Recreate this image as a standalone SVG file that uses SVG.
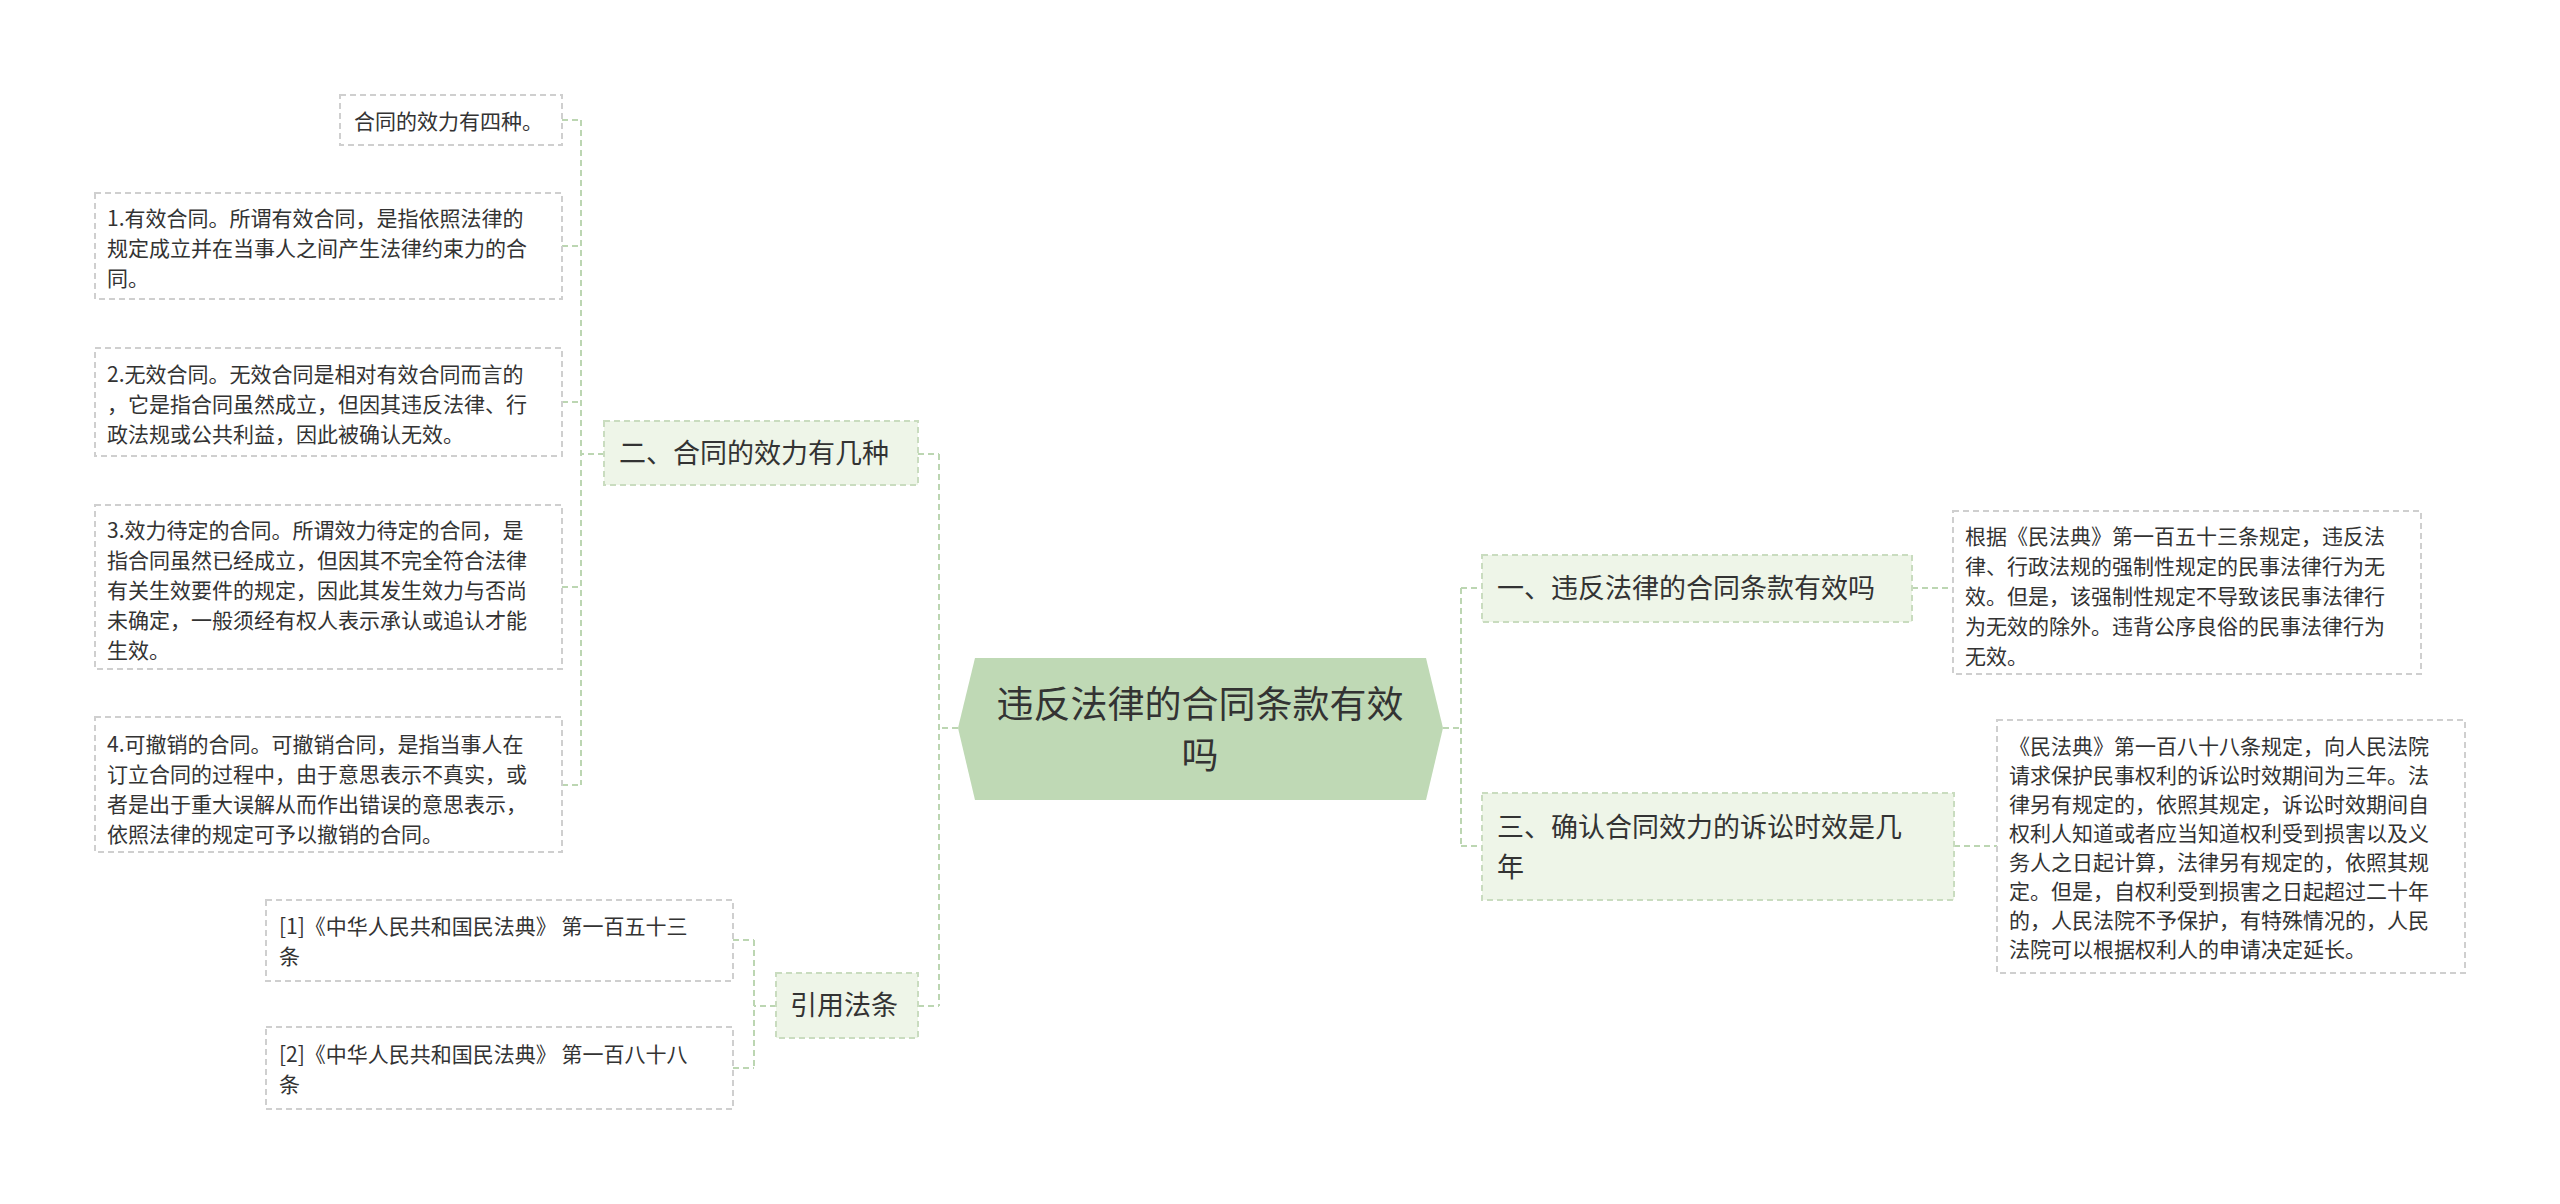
<svg xmlns="http://www.w3.org/2000/svg" width="2560" height="1204" viewBox="0 0 2560 1204">
<style>
text{font-family:"Noto Sans CJK SC","Noto Sans",sans-serif;fill:#333}
.leaf rect{fill:#fff;stroke:#cfcfcf;stroke-width:2;stroke-dasharray:6 4}
.leaf text{font-size:21px}
.br rect{fill:#eef5e8;stroke:#c9dcbf;stroke-width:2;stroke-dasharray:6 4}
.br text{font-size:27px}
#conn path{fill:none;stroke:#bcd6b2;stroke-width:2;stroke-dasharray:6 4}
</style>
<rect width="2560" height="1204" fill="#fff"/>
<g id="conn">
<path d="M958 728 H939 M939 454 V1006 M918 454 H939 M918 1006 H939"/>
<path d="M604 454 H581 M581 120 V785 M562 120 H581 M562 246 H581 M562 402 H581 M562 587 H581 M562 785 H581"/>
<path d="M776 1006 H754 M754 940 V1068 M733 940 H754 M733 1068 H754"/>
<path d="M1443 728 H1461 M1461 588 V846 M1461 588 H1482 M1461 846 H1482"/>
<path d="M1912 588 H1953 M1954 846 H1997"/>
</g>
<g id="root">
<polygon points="958,728 975,658 1426,658 1443,728 1426,800 975,800" fill="#bfd9b5"/>
<text x="1200" y="718" font-size="37" text-anchor="middle">违反法律的合同条款有效</text>
<text x="1200" y="769" font-size="37" text-anchor="middle">吗</text>
</g>
<g id="b2" class="br"><rect x="604" y="421" width="314" height="64"/><text x="619" y="463">二、合同的效力有几种</text></g>
<g id="bref" class="br"><rect x="776" y="973" width="142" height="65"/><text x="790" y="1015">引用法条</text></g>
<g id="b1" class="br"><rect x="1482" y="555" width="430" height="67"/><text x="1497" y="598">一、违反法律的合同条款有效吗</text></g>
<g id="b3" class="br"><rect x="1482" y="793" width="472" height="107"/><text x="1497" y="837">三、确认合同效力的诉讼时效是几</text><text x="1497" y="877">年</text></g>
<g id="l0" class="leaf"><rect x="340" y="95" width="222" height="50"/><text x="354" y="129">合同的效力有四种。</text></g>
<g id="l1" class="leaf"><rect x="95" y="193" width="467" height="106"/>
<text x="107" y="226">1.有效合同。所谓有效合同，是指依照法律的</text><text x="107" y="256">规定成立并在当事人之间产生法律约束力的合</text><text x="107" y="286">同。</text></g>
<g id="l2" class="leaf"><rect x="95" y="348" width="467" height="108"/>
<text x="107" y="382">2.无效合同。无效合同是相对有效合同而言的</text><text x="107" y="412">，它是指合同虽然成立，但因其违反法律、行</text><text x="107" y="442">政法规或公共利益，因此被确认无效。</text></g>
<g id="l3" class="leaf"><rect x="95" y="505" width="467" height="164"/>
<text x="107" y="538">3.效力待定的合同。所谓效力待定的合同，是</text><text x="107" y="568">指合同虽然已经成立，但因其不完全符合法律</text><text x="107" y="598">有关生效要件的规定，因此其发生效力与否尚</text><text x="107" y="628">未确定，一般须经有权人表示承认或追认才能</text><text x="107" y="658">生效。</text></g>
<g id="l4" class="leaf"><rect x="95" y="717" width="467" height="135"/>
<text x="107" y="752">4.可撤销的合同。可撤销合同，是指当事人在</text><text x="107" y="782">订立合同的过程中，由于意思表示不真实，或</text><text x="107" y="812">者是出于重大误解从而作出错误的意思表示，</text><text x="107" y="842">依照法律的规定可予以撤销的合同。</text></g>
<g id="r1" class="leaf"><rect x="266" y="900" width="467" height="81"/>
<text x="279" y="934">[1]《中华人民共和国民法典》 第一百五十三</text><text x="279" y="964">条</text></g>
<g id="r2" class="leaf"><rect x="266" y="1027" width="467" height="82"/>
<text x="279" y="1062">[2]《中华人民共和国民法典》 第一百八十八</text><text x="279" y="1092">条</text></g>
<g id="rl1" class="leaf"><rect x="1953" y="511" width="468" height="163"/>
<text x="1965" y="544">根据《民法典》第一百五十三条规定，违反法</text><text x="1965" y="574">律、行政法规的强制性规定的民事法律行为无</text><text x="1965" y="604">效。但是，该强制性规定不导致该民事法律行</text><text x="1965" y="634">为无效的除外。违背公序良俗的民事法律行为</text><text x="1965" y="664">无效。</text></g>
<g id="rl2" class="leaf"><rect x="1997" y="720" width="468" height="253"/>
<text x="2009" y="754">《民法典》第一百八十八条规定，向人民法院</text><text x="2009" y="783">请求保护民事权利的诉讼时效期间为三年。法</text><text x="2009" y="812">律另有规定的，依照其规定，诉讼时效期间自</text><text x="2009" y="841">权利人知道或者应当知道权利受到损害以及义</text><text x="2009" y="870">务人之日起计算，法律另有规定的，依照其规</text><text x="2009" y="899">定。但是，自权利受到损害之日起超过二十年</text><text x="2009" y="928">的，人民法院不予保护，有特殊情况的，人民</text><text x="2009" y="957">法院可以根据权利人的申请决定延长。</text></g>
</svg>
